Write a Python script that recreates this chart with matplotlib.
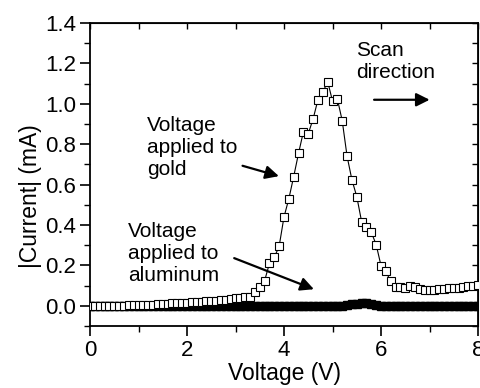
import numpy as np
import matplotlib
matplotlib.use("Agg")
import matplotlib.pyplot as plt
from matplotlib.ticker import MultipleLocator

plt.rcParams['font.family'] = ['Liberation Sans', 'DejaVu Sans']

# scan voltage, 0.1 V steps from 0 to 8 V
voltage = np.round(np.arange(0, 81) * 0.1, 1)

# voltage applied to gold (open squares)
gold = [0.000, 0.000, 0.000, 0.000, 0.000, 0.000, 0.001, 0.001, 0.002, 0.002,
        0.003, 0.004, 0.005, 0.006, 0.008, 0.009, 0.010, 0.012, 0.013, 0.014,
        0.016, 0.018, 0.019, 0.021, 0.023, 0.025, 0.026, 0.028, 0.031, 0.034,
        0.037, 0.040, 0.042, 0.045, 0.066, 0.094, 0.124, 0.210, 0.240, 0.295,
        0.440, 0.530, 0.640, 0.755, 0.862, 0.852, 0.925, 1.020, 1.057, 1.110,
        1.014, 1.024, 0.917, 0.741, 0.624, 0.541, 0.417, 0.389, 0.364, 0.303,
        0.199, 0.170, 0.121, 0.094, 0.093, 0.088, 0.098, 0.093, 0.082, 0.077,
        0.079, 0.079, 0.082, 0.085, 0.086, 0.088, 0.090, 0.093, 0.096, 0.100,
        0.102]

# voltage applied to aluminum (filled squares)
aluminum = [0.000, 0.000, 0.000, 0.000, 0.000, 0.000, 0.000, 0.000, 0.000, 0.000,
            0.000, 0.000, 0.000, 0.000, -0.001, -0.002, -0.003, -0.003, -0.002, -0.003,
            -0.002, -0.002, -0.001, -0.002, -0.001, 0.000, -0.001, 0.000, 0.001, 0.000,
            0.000, 0.001, 0.000, -0.001, 0.000, 0.001, 0.000, 0.000, -0.001, 0.000,
            0.000, 0.001, 0.000, 0.000, -0.001, 0.000, 0.000, 0.001, 0.000, 0.000,
            0.001, 0.000, 0.001, 0.003, 0.007, 0.011, 0.013, 0.012, 0.008, 0.004,
            0.001, 0.000, -0.001, 0.000, 0.000, -0.001, 0.000, 0.000, 0.001, 0.000,
            0.000, 0.000, 0.001, 0.000, 0.000, 0.001, 0.000, 0.000, 0.001, 0.000,
            0.000]

fig = plt.figure(figsize=(4.8, 3.88), dpi=100)
ax = fig.add_axes([90 / 480, 62 / 388, 388 / 480, 303 / 388])

ax.plot(voltage, aluminum, color='black', lw=5, marker='s', ms=6,
        mfc='black', mec='black', zorder=2)
ax.plot(voltage, gold, color='black', lw=0.8, marker='s', ms=5.5,
        mfc='white', mec='black', mew=0.8, zorder=3)

ax.set_xlim(0, 8)
ax.set_ylim(-0.1, 1.4)
ax.set_xticks([0, 2, 4, 6, 8])
ax.xaxis.set_minor_locator(MultipleLocator(1))
ax.set_yticks(np.round(np.arange(0, 1.41, 0.2), 1))
ax.yaxis.set_minor_locator(MultipleLocator(0.1))
ax.set_yticklabels(['%.1f' % v for v in ax.get_yticks()])

ax.tick_params(which='major', direction='out', length=7, width=1.2,
               labelsize=16, pad=3)
ax.tick_params(which='minor', direction='out', length=4, width=1.0)
for sp in ax.spines.values():
    sp.set_linewidth(1.3)

# top and right ticks point inward
secx = ax.secondary_xaxis('top')
secx.set_xticks(np.arange(0, 9))
secx.tick_params(direction='in', length=4, width=1.0, labeltop=False)
secy = ax.secondary_yaxis('right')
secy.set_yticks(np.round(np.arange(-0.1, 1.41, 0.1), 1))
secy.tick_params(direction='in', length=4, width=1.0, labelright=False)

ax.set_xlabel('Voltage (V)', fontsize=16.5, labelpad=1)
ax.set_ylabel('|Current| (mA)', fontsize=16.5)
ax.yaxis.set_label_coords(-0.125, 0.43)

arrow = dict(arrowstyle='-|>', color='black', lw=1.6, mutation_scale=20)
ax.text(1.17, 0.786, 'Voltage\napplied to\ngold', fontsize=15,
        ha='left', va='center', linespacing=1.2)
ax.annotate('', xy=(3.95, 0.638), xytext=(3.09, 0.697), arrowprops=arrow)

ax.text(0.78, 0.26, 'Voltage\napplied to\naluminum', fontsize=15,
        ha='left', va='center', linespacing=1.2)
ax.annotate('', xy=(4.67, 0.077), xytext=(2.92, 0.241), arrowprops=arrow)

ax.text(5.49, 1.211, 'Scan\ndirection', fontsize=15,
        ha='left', va='center', linespacing=1.2)
ax.annotate('', xy=(7.06, 1.02), xytext=(5.80, 1.02), arrowprops=arrow)

fig.savefig('out.png', dpi=100)
